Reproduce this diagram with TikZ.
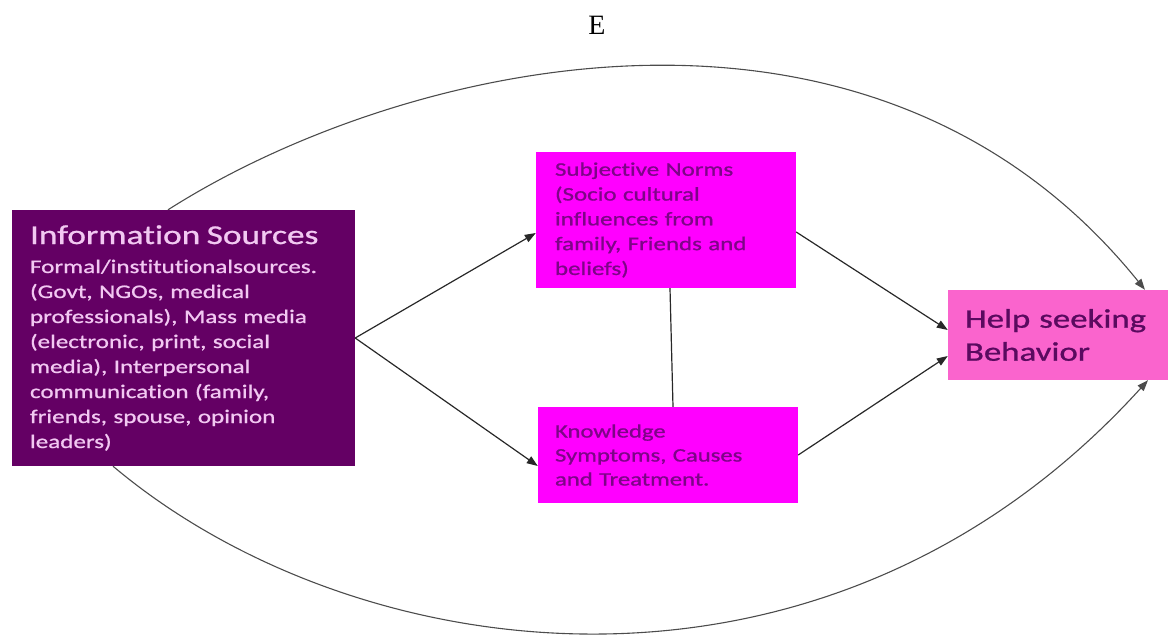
\documentclass[tikz,border=0pt]{standalone}
\usepackage{fontspec}
\setmainfont{Liberation Serif}
\newfontfamily\carfont[FakeStretch=1.3,FakeBold=0.9,Ligatures=NoCommon,RawFeature=-liga]{Carlito}
\usetikzlibrary{arrows.meta}
\definecolor{infofill}{RGB}{100,0,100}
\definecolor{infotext}{RGB}{242,200,242}
\definecolor{magbox}{RGB}{255,0,255}
\definecolor{magtext}{RGB}{125,5,135}
\definecolor{helpfill}{RGB}{250,100,205}
\definecolor{helptext}{RGB}{90,10,95}
\definecolor{linecol}{RGB}{40,40,40}
\tikzset{
  box/.style={rectangle, inner ysep=0pt, align=left, anchor=center},
  arr/.style={draw=linecol, line width=1.2pt, -{Triangle[length=11pt,width=8pt]}},
  plain/.style={draw=linecol, line width=1.2pt},
  curvearr/.style={draw=black!70, line width=1.1pt, -{Triangle[length=11pt,width=8pt]}}
}
\begin{document}
\begin{tikzpicture}[x=1pt,y=-1pt]
\useasboundingbox (0,0) rectangle (1168,637);
\node[font=\fontsize{28}{30}\selectfont] (e) at (597,25) {E};
\node[box, fill=infofill, text=infotext, inner xsep=18pt, text width=307pt, minimum height=256pt,
  font=\carfont\fontsize{19.3}{25}\selectfont] (info) at (183.5,338)
  {{\fontsize{27.2}{30}\selectfont Information Sources}\\[4pt]
   Formal/institutionalsources.\\
   (Govt, NGOs, medical\\
   professionals), Mass media\\
   (electronic, print, social\\
   media), Interpersonal\\
   communication (family,\\
   friends, spouse, opinion\\
   leaders)};
\node[box, fill=magbox, text=magtext, inner xsep=19pt, text width=222pt, minimum height=136pt,
  font=\carfont\fontsize{19.2}{24.8}\selectfont] (sn) at (666,220)
  {Subjective Norms\\
   (Socio cultural\\
   influences from\\
   family, Friends and\\
   beliefs)};
\node[box, fill=magbox, text=magtext, inner xsep=17pt, text width=226pt, minimum height=96pt,
  font=\carfont\fontsize{19}{24}\selectfont] (kn) at (668,455)
  {Knowledge\\
   Symptoms, Causes\\
   and Treatment.\\[6pt]};
\node[box, fill=helpfill, text=helptext, inner xsep=17pt, text width=186pt, minimum height=90pt,
  font=\carfont\fontsize{26.8}{33}\selectfont] (help) at (1058,335)
  {Help seeking\\
   Behavior};
% straight connectors
\draw[arr] (info.east) -- ([yshift=-13pt]sn.west);
\draw[arr] (info.east) -- ([yshift=-11pt]kn.west);
\draw[arr] ([yshift=-12pt]sn.east) -- ([yshift=5pt]help.west);
\draw[arr] (kn.east) -- ([yshift=-21pt]help.west);
\draw[plain] ([xshift=4pt]sn.south) -- ([xshift=5pt]kn.north);
% curved connectors
\draw[curvearr] ([xshift=-15.5pt]info.north) .. controls (400,62) and (870,-51) .. ([xshift=87pt]help.north);
\draw[curvearr] ([xshift=-70.5pt]info.south) .. controls (355,670) and (825,736) .. ([xshift=90pt]help.south);
\end{tikzpicture}
\end{document}
